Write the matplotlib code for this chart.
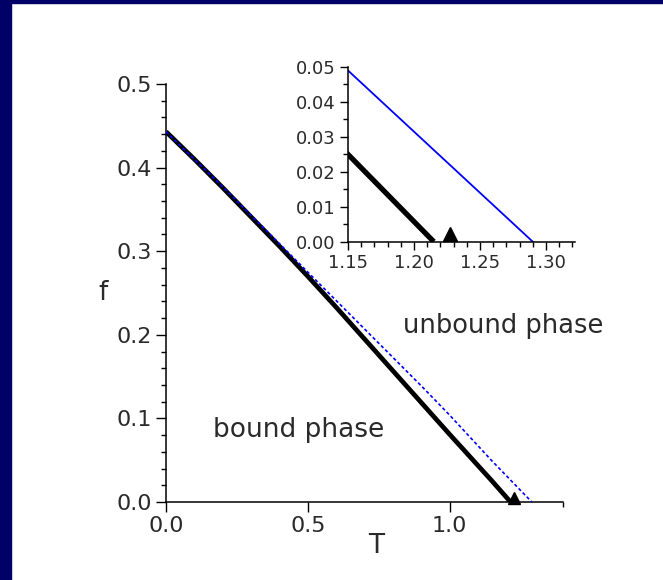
import matplotlib
matplotlib.use("Agg")
import matplotlib.pyplot as plt
from matplotlib.patches import Rectangle
from matplotlib.ticker import MultipleLocator, FormatStrFormatter

# phase boundary
t_black = [0.0, 0.1, 0.2, 0.3, 0.4, 0.5, 0.6, 0.7, 0.8, 0.9, 1.0, 1.15, 1.215]
f_black = [0.443, 0.410, 0.376, 0.341, 0.306, 0.270, 0.233, 0.195, 0.157,
           0.119, 0.081, 0.025, 0.0]
t_blue = [0.0, 0.1, 0.2, 0.3, 0.4, 0.5, 0.6, 0.7, 0.8, 0.9, 1.0, 1.15, 1.29]
f_blue = [0.443, 0.410, 0.377, 0.343, 0.309, 0.275, 0.241, 0.207, 0.173,
          0.139, 0.104, 0.049, 0.0]
t_tri = 1.227

plt.rcParams['font.family'] = ['DejaVu Sans']
txt = '#2a2a2a'

fig = plt.figure(figsize=(6.63, 5.80), dpi=100)
fig.patch.set_facecolor('white')
# navy frame at top and left
fig.patches.append(Rectangle((0, 0), 11 / 663, 1, transform=fig.transFigure,
                             color='#000066', zorder=0))
fig.patches.append(Rectangle((0, 1 - 3 / 580), 1, 3 / 580, transform=fig.transFigure,
                             color='#000066', zorder=0))


def style(ax, size, major, minor):
    for s in ['top', 'right']:
        ax.spines[s].set_visible(False)
    for s in ['left', 'bottom']:
        ax.spines[s].set_linewidth(1.1)
    ax.tick_params(which='major', direction='out', length=major, width=1.0,
                   labelsize=size, labelcolor=txt, pad=3)
    ax.tick_params(which='minor', direction='out', length=minor, width=1.0)


# main plot
ax = fig.add_axes([166 / 663, 78 / 580, 397 / 663, 418 / 580])
ax.plot(t_black, f_black, color='black', lw=3.4, solid_capstyle='butt',
        solid_joinstyle='round', zorder=3)
ax.plot(t_blue, f_blue, color='#0000ff', lw=1.2, ls=(0, (2, 1.5)), zorder=4)
ax.plot([t_tri], [0.005], marker='^', ms=9, color='black', clip_on=False, zorder=5)
ax.set_xlim(0, 1.4)
ax.set_ylim(0, 0.5)
ax.xaxis.set_major_locator(MultipleLocator(0.5))
ax.xaxis.set_minor_locator(MultipleLocator(0.1))
ax.yaxis.set_major_locator(MultipleLocator(0.1))
ax.yaxis.set_minor_locator(MultipleLocator(0.02))
ax.xaxis.set_major_formatter(FormatStrFormatter('%.1f'))
ax.yaxis.set_major_formatter(FormatStrFormatter('%.1f'))
style(ax, 16, 7, 3.8)
ax.set_xticks([1.4], minor=True)

fig.text(103 / 663, 1 - 293 / 580, 'f', fontsize=19, color=txt, ha='center', va='center')
fig.text(376 / 663, 1 - 546 / 580, 'T', fontsize=19, color=txt, ha='center', va='center')
fig.text(299 / 663, 1 - 437 / 580, 'bound phase', fontsize=19, color=txt,
         ha='center', va='baseline')
fig.text(503 / 663, 1 - 333 / 580, 'unbound phase', fontsize=18.5, color=txt,
         ha='center', va='baseline')

# inset
ins = fig.add_axes([348 / 663, 1 - 241.7 / 580, 227 / 663, 174.7 / 580])
ins.plot(t_black, f_black, color='black', lw=3.8, solid_capstyle='butt')
ins.plot(t_blue, f_blue, color='#0000ff', lw=1.3)
ins.plot([t_tri], [0.0021], marker='^', ms=10, color='black', clip_on=False)
ins.set_xlim(1.15, 1.322)
ins.set_ylim(0, 0.05)
ins.xaxis.set_major_locator(MultipleLocator(0.05))
ins.xaxis.set_minor_locator(MultipleLocator(0.01))
ins.yaxis.set_major_locator(MultipleLocator(0.01))
ins.yaxis.set_minor_locator(MultipleLocator(0.005))
ins.xaxis.set_major_formatter(FormatStrFormatter('%.2f'))
ins.yaxis.set_major_formatter(FormatStrFormatter('%.2f'))
style(ins, 13, 6, 3.5)
ins.patch.set_alpha(0)

fig.savefig('out.png', dpi=100)
